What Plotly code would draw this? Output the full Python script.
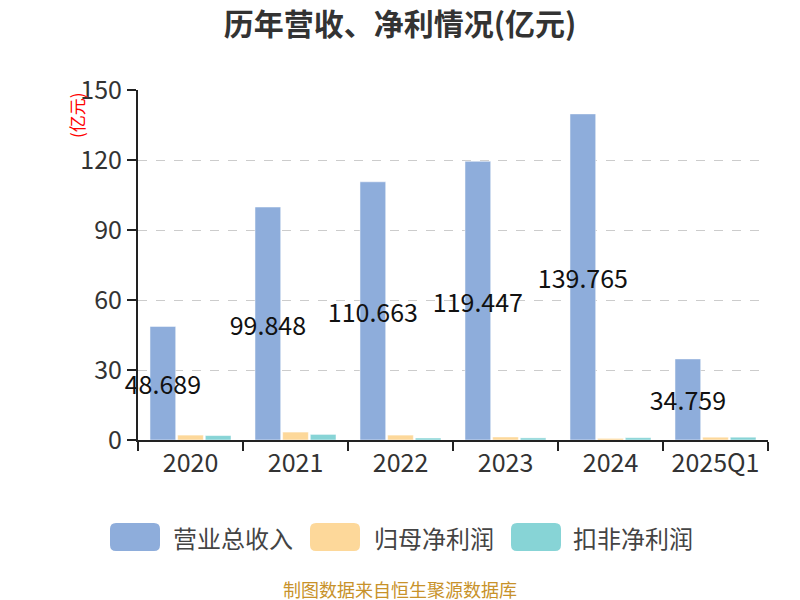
import plotly.graph_objects as go

categories = ["2020", "2021", "2022", "2023", "2024", "2025Q1"]
revenue = [48.689, 99.848, 110.663, 119.447, 139.765, 34.759]
net_profit = [2.1, 3.4, 2.1, 1.3, 0.7, 1.2]
deducted_profit = [1.9, 2.4, 0.85, 0.9, 1.0, 1.2]
series_names = ["营业总收入", "归母净利润", "扣非净利润"]
colors = ["#8eaddb", "#fdd89a", "#87d4d6"]
y_ticks = [0, 30, 60, 90, 120, 150]

FONT = "Noto Sans CJK SC, Noto Sans, sans-serif"

# page is offset by 8px body margin; work in page coords and subtract OFF
OFF = 8
W, H = 800 - OFF, 600 - OFF
PL, PR, PT, PB = 138, 768, 90, 440  # plot area in page pixels
l, t = PL - OFF, PT - OFF
r, b = W - (PR - OFF), H - (PB - OFF)
pw, ph = W - l - r, H - t - b

def px_x(x):
    return (x - OFF - l) / pw

def px_y(y):
    return (PB - y) / ph

fig = go.Figure()
fig.add_trace(go.Bar(
    x=categories, y=revenue, name=series_names[0], marker_color=colors[0],
    marker_line=dict(color="white", width=0.5),
    text=[f"{v:g}" for v in revenue], textposition="inside",
    insidetextanchor="middle", constraintext="none",
    textfont=dict(size=25, color="#111111", family=FONT),
    textangle=0, cliponaxis=False,
))
fig.add_trace(go.Bar(x=categories, y=net_profit, name=series_names[1], marker_color=colors[1],
                     marker_line=dict(color="white", width=0.5)))
fig.add_trace(go.Bar(x=categories, y=deducted_profit, name=series_names[2], marker_color=colors[2],
                     marker_line=dict(color="white", width=0.5)))

fig.update_layout(
    width=W, height=H,
    margin=dict(l=l, r=r, t=t, b=b, autoexpand=False),
    plot_bgcolor="white", paper_bgcolor="white",
    barmode="group", bargap=0.21, bargroupgap=0.07,
    showlegend=False,
    font=dict(family=FONT, color="#333333"),
    title=dict(text="<b>历年营收、净利情况(亿元)</b>", x=px_x(400), xanchor="center", xref="paper",
               y=1 - (24 - OFF) / H, yanchor="middle", font=dict(size=30, color="#333333", family=FONT)),
)
fig.update_xaxes(
    type="category", showline=True, linecolor="#222222", linewidth=2,
    ticks="outside", tickson="boundaries", ticklen=9, tickwidth=2, tickcolor="#222222",
    tickfont=dict(size=25, color="#333333"), showgrid=False,
)
fig.update_yaxes(
    range=[0, 150], tickvals=y_ticks, showline=True, linecolor="#222222", linewidth=2,
    ticks="outside", ticklen=9, tickwidth=2, tickcolor="#222222",
    tickfont=dict(size=25, color="#333333"),
    showgrid=True, gridcolor="#cccccc", griddash="dash", gridwidth=1.3,
    zeroline=False,
)

# y-axis unit label
fig.add_annotation(text="(亿元)", x=px_x(77), y=px_y(115), xref="paper", yref="paper",
                   xanchor="center", yanchor="middle",
                   textangle=-90, showarrow=False, font=dict(size=17, color="red", family=FONT))

# custom legend
legend_items = [(110, 171), (310, 372), (511, 571)]
for (rx, tx), name, c in zip(legend_items, series_names, colors):
    x0, x1 = rx, rx + 50
    y0, y1 = 523, 551
    rr = 6
    path = (f"M {px_x(x0+rr)},{px_y(y0)} L {px_x(x1-rr)},{px_y(y0)} "
            f"Q {px_x(x1)},{px_y(y0)} {px_x(x1)},{px_y(y0+rr)} "
            f"L {px_x(x1)},{px_y(y1-rr)} Q {px_x(x1)},{px_y(y1)} {px_x(x1-rr)},{px_y(y1)} "
            f"L {px_x(x0+rr)},{px_y(y1)} Q {px_x(x0)},{px_y(y1)} {px_x(x0)},{px_y(y1-rr)} "
            f"L {px_x(x0)},{px_y(y0+rr)} Q {px_x(x0)},{px_y(y0)} {px_x(x0+rr)},{px_y(y0)} Z")
    fig.add_shape(type="path", path=path, xref="paper", yref="paper",
                  fillcolor=c, line=dict(width=0))
    fig.add_annotation(text=name, x=px_x(tx), y=px_y(537), xref="paper", yref="paper",
                       xanchor="left", yanchor="middle", showarrow=False,
                       font=dict(size=24, color="#444444", family=FONT))

fig.add_annotation(text="制图数据来自恒生聚源数据库", x=px_x(400), y=px_y(589),
                   xref="paper", yref="paper", xanchor="center", yanchor="middle",
                   showarrow=False, font=dict(size=18, color="#c8922a", family=FONT))

fig.write_html("out.html")
